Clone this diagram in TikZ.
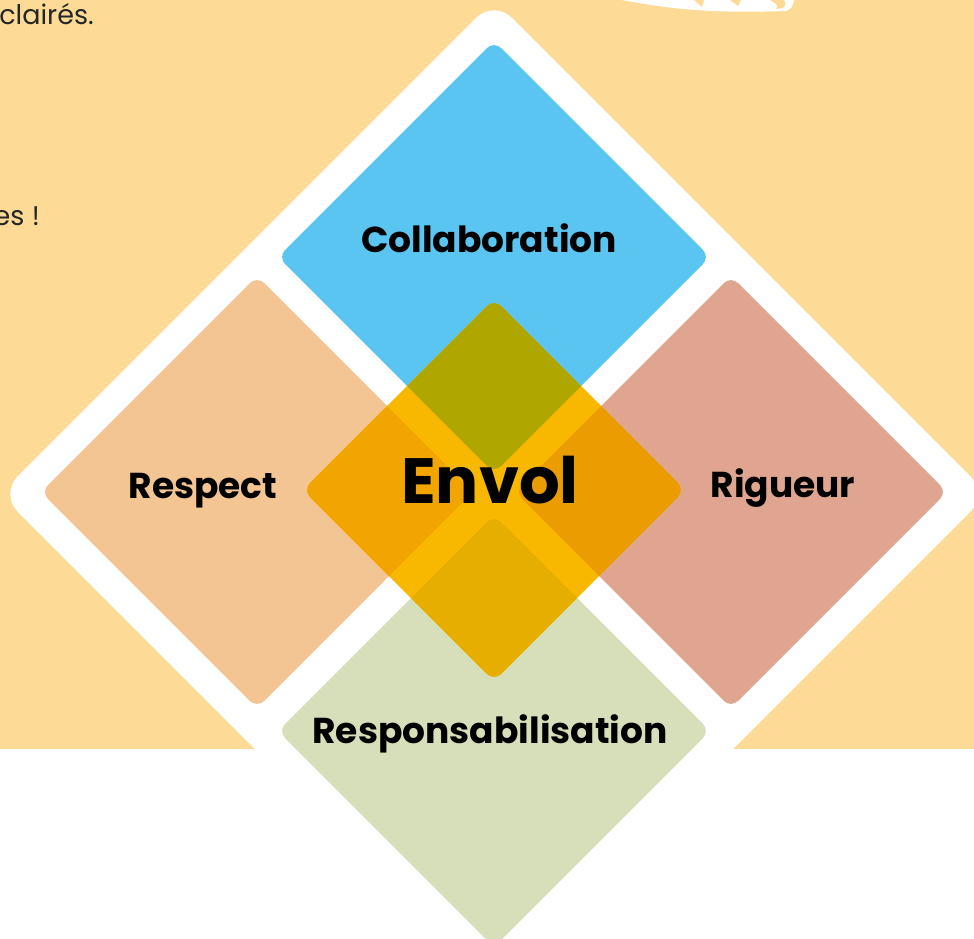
\documentclass[tikz,border=0pt]{standalone}
\usepackage{fontspec}
\setmainfont{Poppins}
\usetikzlibrary{shapes.geometric}
\definecolor{fond}{HTML}{FDDB97}
\definecolor{bleu}{HTML}{5BC5F2}
\definecolor{peche}{HTML}{F3C592}
\definecolor{brique}{HTML}{E0A590}
\definecolor{vert}{HTML}{D6DEBA}
\definecolor{jaune}{HTML}{F9B800}
\definecolor{jbleu}{HTML}{AFA700}
\definecolor{jpeche}{HTML}{F2A500}
\definecolor{jbrique}{HTML}{EB9C00}
\definecolor{jvert}{HTML}{E6AF00}
\tikzset{
  losange/.style={diamond, minimum width=#1, minimum height=#1, inner sep=0pt, outer sep=0pt, rounded corners=10pt},
  valeur/.style={font=\bfseries\fontsize{36}{36}\selectfont, inner sep=0pt},
  phrase/.style={font=\fontsize{27}{27}\selectfont, text=black!85, inner sep=0pt, anchor=base east}
}
\begin{document}
\begin{tikzpicture}[x=1pt,y=-1pt]
\useasboundingbox (0,0) rectangle (974,939);
\fill[fond] (0,0) rectangle (974,749);
\fill[white] (622,0) .. controls (680,11) and (720,13) .. (786,11) .. controls (792,8) .. (794,0) -- cycle;
\fill[fond] (694,0) -- (702,7) -- (704,0) -- cycle;
\fill[fond] (730,0) -- (738,6) -- (741,0) -- cycle;
\fill[fond] (770,0) .. controls (778,5) .. (776,9) -- (783,8) .. controls (786,4) .. (784,0) -- cycle;
\node[phrase] (ligne1) at (94,25) {clairés.};
\node[phrase] (ligne2) at (40,225) {es !};
\node[losange=988pt, fill=white, rounded corners=25pt] (cadre) at (494,494) {};
\node[losange=432pt, fill=bleu] (collab) at (494,257) {};
\node[losange=432pt, fill=peche] (respect) at (257,492) {};
\node[losange=432pt, fill=brique] (rigueur) at (731,492) {};
\node[losange=432pt, fill=vert] (respons) at (494,731) {};
\node[losange=382pt, fill=jaune] (envol) at (494,490) {};
\begin{scope}
\clip[rounded corners=10pt] (envol.north east) -- (envol.east) -- (envol.south) -- (envol.west) -- (envol.north) -- cycle;
\fill[jbleu, rounded corners=10pt] (collab.north east) -- (collab.east) -- (collab.south) -- (collab.west) -- (collab.north) -- cycle;
\fill[jpeche, rounded corners=10pt] (respect.north east) -- (respect.east) -- (respect.south) -- (respect.west) -- (respect.north) -- cycle;
\fill[jbrique, rounded corners=10pt] (rigueur.north east) -- (rigueur.east) -- (rigueur.south) -- (rigueur.west) -- (rigueur.north) -- cycle;
\fill[jvert, rounded corners=10pt] (respons.north east) -- (respons.east) -- (respons.south) -- (respons.west) -- (respons.north) -- cycle;
\end{scope}
\node[valeur, anchor=base] (tcollab) at (489,252) {Collaboration};
\node[valeur, anchor=base] (trespect) at (203,498) {Respect};
\node[valeur, anchor=base] (trigueur) at (783,497) {Rigueur};
\node[valeur, anchor=base] (trespons) at (490,743) {Responsabilisation};
\node[valeur, anchor=base, font=\bfseries\fontsize{64}{64}\selectfont] (tenvol) at (490,503) {Envol};
\end{tikzpicture}
\end{document}
